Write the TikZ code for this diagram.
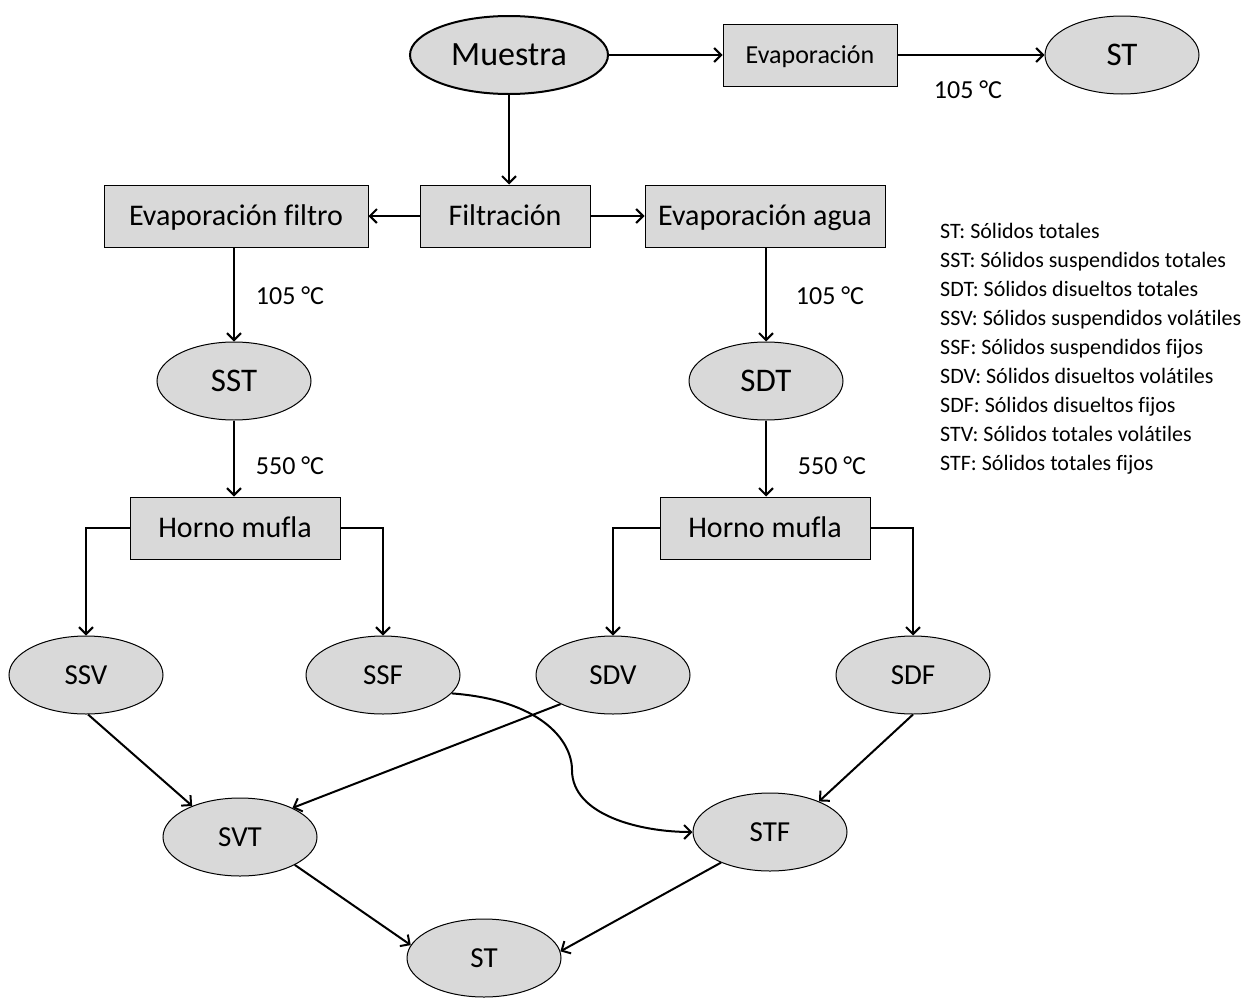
\documentclass[tikz,border=0pt]{standalone}
\usepackage{fontspec}
\setmainfont{Carlito}[Ligatures=NoCommon]
\usetikzlibrary{shapes.geometric,arrows.meta}
\definecolor{boxgray}{HTML}{D9D9D9}
\begin{document}
\begin{tikzpicture}[x=1pt,y=-1pt,
 ell/.style={ellipse,draw,fill=boxgray,minimum width=154pt,minimum height=78pt,inner sep=0pt,font=\fontsize{29}{32}\selectfont,line width=1pt,text height=18.5pt,text depth=0pt},
 bigell/.style={ell,font=\fontsize{33}{36}\selectfont,text height=21pt},
 proc/.style={rectangle,draw,fill=boxgray,minimum height=62pt,inner sep=0pt,font=\fontsize{30}{34}\selectfont,line width=1pt,text height=19pt,text depth=0pt},
 arr/.style={line width=2pt,-{Straight Barb[length=7pt,width=14pt]}},
 lab/.style={font=\fontsize{26}{30}\selectfont},
 leg/.style={font=\fontsize{22}{26}\selectfont,anchor=base west,inner sep=0pt}]
\useasboundingbox (0,0) rectangle (1259,999);
% top row
\node[ell,minimum width=198pt,line width=2pt,font=\fontsize{34}{38}\selectfont,text height=21.5pt] (muestra) at (509,55) {Muestra};
\node[proc,minimum width=174pt,font=\fontsize{26}{30}\selectfont,text height=16.5pt] (evap) at (810,55) {Evaporación};
\node[bigell] (st1) at (1122,55) {ST};
\node[lab] (t1) at (968,90) {105 °C};
% second row
\node[proc,minimum width=170pt] (filt) at (505,216) {Filtración};
\node[proc,minimum width=264pt] (evf) at (236,216) {Evaporación filtro};
\node[proc,minimum width=240pt] (eva) at (765,216) {Evaporación agua};
% SST / SDT
\node[bigell] (sst) at (234,381) {SST};
\node[bigell] (sdt) at (766,381) {SDT};
\node[lab] (t2) at (290,296) {105 °C};
\node[lab] (t3) at (830,296) {105 °C};
\node[lab] (t4) at (290,466) {550 °C};
\node[lab] (t5) at (832,466) {550 °C};
% ovens
\node[proc,minimum width=210pt] (h1) at (235,528) {Horno mufla};
\node[proc,minimum width=210pt] (h2) at (765,528) {Horno mufla};
% fractions
\node[ell] (ssv) at (86,675) {SSV};
\node[ell] (ssf) at (383,675) {SSF};
\node[ell] (sdv) at (613,675) {SDV};
\node[ell] (sdf) at (913,675) {SDF};
\node[ell] (svt) at (240,837) {SVT};
\node[ell] (stf) at (770,832) {STF};
\node[ell] (st2) at (484,958) {ST};
% legend
\node[leg] (l1) at (940,238) {ST: Sólidos totales};
\node[leg] (l2) at (940,267) {SST: Sólidos suspendidos totales};
\node[leg] (l3) at (940,296) {SDT: Sólidos disueltos totales};
\node[leg] (l4) at (940,325) {SSV: Sólidos suspendidos volátiles};
\node[leg] (l5) at (940,354) {SSF: Sólidos suspendidos fijos};
\node[leg] (l6) at (940,383) {SDV: Sólidos disueltos volátiles};
\node[leg] (l7) at (940,412) {SDF: Sólidos disueltos fijos};
\node[leg] (l8) at (940,441) {STV: Sólidos totales volátiles};
\node[leg] (l9) at (940,470) {STF: Sólidos totales fijos};
% connectors
\draw[arr] (muestra.east) -- (evap.west);
\draw[arr] (evap.east) -- (st1.west);
\draw[arr] (muestra.south) -- (muestra.south |- filt.north);
\draw[arr] (filt.west) -- (evf.east);
\draw[arr] (filt.east) -- (eva.west);
\draw[arr] (sst.north |- evf.south) -- (sst.north);
\draw[arr] (sdt.north |- eva.south) -- (sdt.north);
\draw[arr] (sst.south) -- (sst.south |- h1.north);
\draw[arr] (sdt.south) -- (sdt.south |- h2.north);
\draw[arr] (h1.west) -| (ssv.north);
\draw[arr] (h1.east) -| (ssf.north);
\draw[arr] (h2.west) -| (sdv.north);
\draw[arr] (h2.east) -| (sdf.north);
\draw[arr] (ssv.-87) -- (svt.147);
\draw[arr] (sdv.209) -- (svt.29);
\draw[arr] (sdf.-90) -- (stf.32);
\draw[arr] (ssf.-15) .. controls (540,700) and (572,740) .. (572,770) .. controls (572,815) and (640,832) .. (stf.west);
\draw[arr] (svt.-27) -- (st2.170);
\draw[arr] (stf.212) -- (st2.5);
\end{tikzpicture}
\end{document}
